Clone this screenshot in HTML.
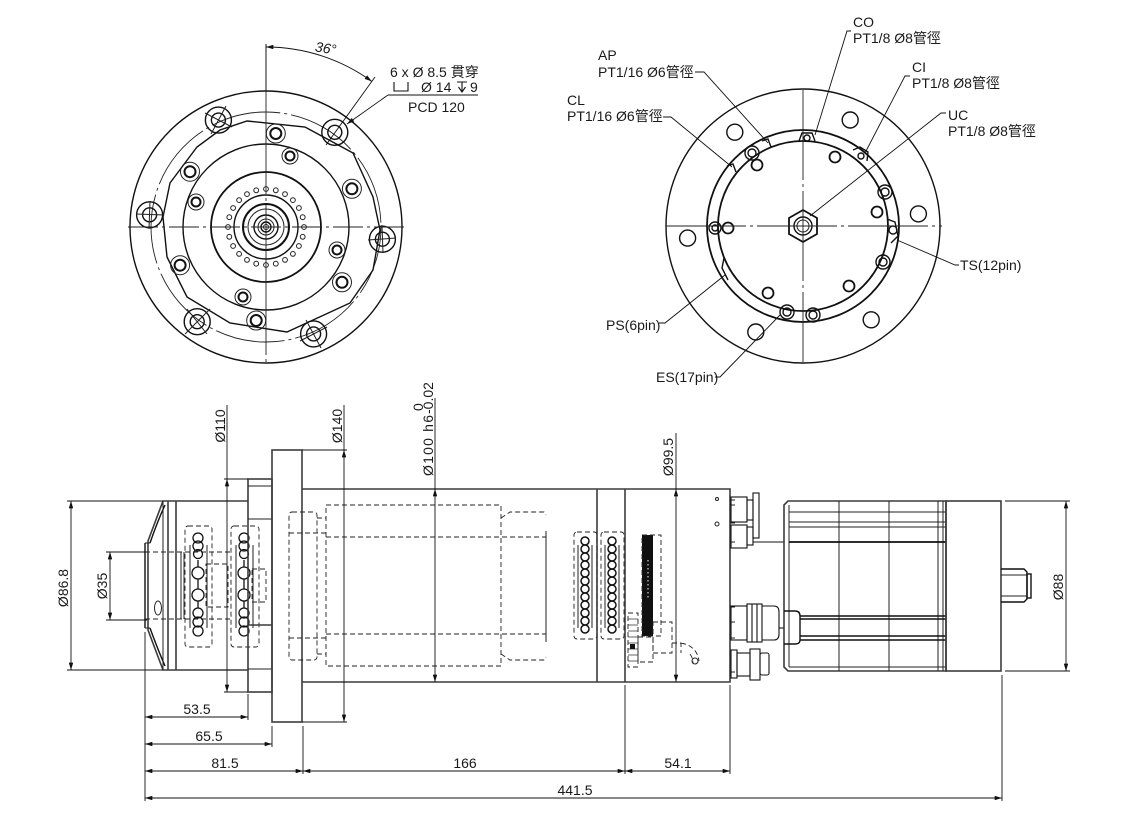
<!DOCTYPE html>
<html>
<head>
<meta charset="utf-8">
<style>
html,body{margin:0;padding:0;background:#fff;}
svg{display:block;}
text{font-family:"Liberation Sans","Noto Sans CJK TC",sans-serif;fill:#1a1a1a;font-size:14px;}
.o{stroke:#3c3c3c;stroke-width:1.6;fill:none;}
.t{stroke:#222;stroke-width:1;fill:none;}
.k{stroke:#111;stroke-width:1.4;fill:none;}
.d{stroke:#222;stroke-width:0.9;fill:none;stroke-dasharray:5 3;}
.c{stroke:#222;stroke-width:0.9;fill:none;stroke-dasharray:30 4 3 4;}
.dm{stroke:#111;stroke-width:0.9;fill:none;}
.da{stroke:#111;stroke-width:0.9;fill:none;marker-start:url(#ar);marker-end:url(#ar);}
.de{stroke:#111;stroke-width:0.9;fill:none;marker-end:url(#ar);}
</style>
</head>
<body>
<svg width="1138" height="822" viewBox="0 0 1138 822" xmlns="http://www.w3.org/2000/svg">
<defs>
<marker id="ar" viewBox="0 0 10 6" refX="10" refY="3" markerWidth="8" markerHeight="4.4" orient="auto-start-reverse" markerUnits="userSpaceOnUse">
<path d="M0,0 L10,3 L0,6 z" fill="#111"/>
</marker>
</defs>

<!-- ================= LEFT FRONT VIEW ================= -->
<g>
<circle cx="266" cy="227" r="136" class="k"/>
<circle cx="266" cy="227" r="115" class="c" style="stroke-dasharray:70 4 3 4"/>
<path class="k" d="M247,121 L305,127 L353,153 L373,197 L380,230 L373,270 L350,303 L287,332 L230,323 L187,297 L167,257 L163,217 L170,183 L197,147 L220,130 Z"/>
<circle cx="266" cy="227" r="83" class="k"/>
<circle cx="266" cy="227" r="55" class="k" style="stroke-width:1.8"/>
<circle cx="266" cy="227" r="32" class="k"/>
<circle cx="266" cy="227" r="23" class="k" style="stroke-width:2"/>
<circle cx="266" cy="227" r="18" class="t"/>
<circle cx="266" cy="227" r="12" class="k"/>
<circle cx="266" cy="227" r="8" class="t"/>
<circle cx="266" cy="227" r="5" class="k"/>
<circle cx="266" cy="227" r="2.5" class="t"/>
<!-- small hole ring -->
<g class="t">
<circle cx="304" cy="227" r="2.4"/><circle cx="302.7" cy="217.2" r="2.4"/><circle cx="298.9" cy="208" r="2.4"/><circle cx="292.9" cy="200.1" r="2.4"/>
<circle cx="285" cy="194.1" r="2.4"/><circle cx="275.8" cy="190.3" r="2.4"/><circle cx="266" cy="189" r="2.4"/><circle cx="256.2" cy="190.3" r="2.4"/>
<circle cx="247" cy="194.1" r="2.4"/><circle cx="239.1" cy="200.1" r="2.4"/><circle cx="233.1" cy="208" r="2.4"/><circle cx="229.3" cy="217.2" r="2.4"/>
<circle cx="228" cy="227" r="2.4"/><circle cx="229.3" cy="236.8" r="2.4"/><circle cx="233.1" cy="246" r="2.4"/><circle cx="239.1" cy="253.9" r="2.4"/>
<circle cx="247" cy="259.9" r="2.4"/><circle cx="256.2" cy="263.7" r="2.4"/><circle cx="266" cy="265" r="2.4"/><circle cx="275.8" cy="263.7" r="2.4"/>
<circle cx="285" cy="259.9" r="2.4"/><circle cx="292.9" cy="253.9" r="2.4"/><circle cx="298.9" cy="246" r="2.4"/><circle cx="302.7" cy="236.8" r="2.4"/>
</g>
<!-- large bolt holes -->
<g>
<circle cx="334.8" cy="132.3" r="13" class="k"/><circle cx="334.8" cy="132.3" r="7" class="k"/>
<circle cx="218.4" cy="120.1" r="13" class="k"/><circle cx="218.4" cy="120.1" r="7" class="k"/>
<circle cx="149.6" cy="214.8" r="13" class="k"/><circle cx="149.6" cy="214.8" r="7" class="k"/>
<circle cx="197.2" cy="321.7" r="13" class="k"/><circle cx="197.2" cy="321.7" r="7" class="k"/>
<circle cx="313.6" cy="333.9" r="13" class="k"/><circle cx="313.6" cy="333.9" r="7" class="k"/>
<circle cx="382.4" cy="239.2" r="13" class="k"/><circle cx="382.4" cy="239.2" r="7" class="k"/>
</g>
<g class="t">
<path d="M226,106 L211,134 M205,113 L232,127"/>
<path d="M136,214 L164,215 M150,201 L149,229"/>
<path d="M187,309 L207,334 M185,334 L210,309"/>
<path d="M306,320 L321,348 M300,341 L327,327"/>
<path d="M368,240 L396,238 M382,225 L383,253"/>
</g>
<!-- medium holes r=94 -->
<g>
<circle cx="351.9" cy="188.8" r="9.5" class="t"/><circle cx="351.9" cy="188.8" r="5.5" class="k" style="stroke-width:2"/>
<circle cx="275.8" cy="133.5" r="9.5" class="t"/><circle cx="275.8" cy="133.5" r="5.5" class="k" style="stroke-width:2"/>
<circle cx="190" cy="171.7" r="9.5" class="t"/><circle cx="190" cy="171.7" r="5.5" class="k" style="stroke-width:2"/>
<circle cx="180.1" cy="265.2" r="9.5" class="t"/><circle cx="180.1" cy="265.2" r="5.5" class="k" style="stroke-width:2"/>
<circle cx="256.2" cy="320.5" r="9.5" class="t"/><circle cx="256.2" cy="320.5" r="5.5" class="k" style="stroke-width:2"/>
<circle cx="342" cy="282.3" r="9.5" class="t"/><circle cx="342" cy="282.3" r="5.5" class="k" style="stroke-width:2"/>
</g>
<!-- small holes r=75 -->
<g>
<circle cx="290" cy="156" r="8" class="t"/><circle cx="290" cy="156" r="4.5" class="k" style="stroke-width:2"/>
<circle cx="196" cy="202" r="8" class="t"/><circle cx="196" cy="202" r="4.5" class="k" style="stroke-width:2"/>
<circle cx="243" cy="297" r="8" class="t"/><circle cx="243" cy="297" r="4.5" class="k" style="stroke-width:2"/>
<circle cx="337" cy="250" r="8" class="t"/><circle cx="337" cy="250" r="4.5" class="k" style="stroke-width:2"/>
</g>
<!-- centerlines -->
<line x1="128" y1="227" x2="405" y2="227" class="c"/>
<line x1="266" y1="44" x2="266" y2="363" class="c" style="stroke-dasharray:150 4 3 4"/>
<line x1="266" y1="44" x2="266" y2="90" class="dm"/>
<!-- 36 deg -->
<path d="M266,47 A180,180 0 0 1 371.8,81.4" class="da"/>
<line x1="326" y1="145" x2="375" y2="77" class="dm"/>
<line x1="388" y1="95" x2="478" y2="95" class="dm"/>
<line x1="388" y1="95" x2="347" y2="124" class="de"/>
<text x="315" y="53" font-size="12" font-style="italic" transform="rotate(9 326 49)">36°</text>
<text x="390" y="77">6 x Ø 8.5 貫穿</text>
<path d="M394,82 V91 H408 V82" class="dm" style="stroke-width:1.1"/>
<text x="421" y="92">Ø 14</text>
<path d="M457,82 H467 M462,82 V92 M458.5,87 L462,92 L465.5,87" class="dm" style="stroke-width:1.1"/>
<text x="470" y="92">9</text>
<text x="408" y="112">PCD 120</text>
</g>

<!-- ================= RIGHT REAR VIEW ================= -->
<g>
<circle cx="803" cy="226" r="137" class="k"/>
<circle cx="803" cy="226" r="96" class="k" style="stroke-width:1.8"/>
<circle cx="803" cy="226" r="85" class="k" style="stroke-width:1.8"/>
<g class="k">
<circle cx="918.4" cy="213.9" r="8"/><circle cx="850.2" cy="120" r="8"/><circle cx="734.8" cy="132.2" r="8"/>
<circle cx="687.6" cy="238.1" r="8"/><circle cx="755.8" cy="332" r="8"/><circle cx="871.2" cy="319.8" r="8"/>
</g>
<g class="k" style="stroke-width:1.8">
<circle cx="757" cy="165" r="5.5"/><circle cx="835" cy="157" r="5.5"/><circle cx="877" cy="212" r="5.5"/>
<circle cx="728" cy="228" r="5.5"/><circle cx="768" cy="293" r="5.5"/><circle cx="849" cy="286" r="5.5"/>
</g>
<!-- fittings -->
<g class="k">
<path d="M799,141 L802,133 L812,133 L815,141"/><circle cx="807" cy="138" r="3"/>
<circle cx="752" cy="153" r="7"/><circle cx="752" cy="153" r="4"/>
<path d="M762,141 L768,139 L771,147"/>
<path d="M727,166 L733,164 L736,172"/>
<circle cx="715" cy="228" r="6"/><circle cx="715" cy="228" r="3"/>
<path d="M853,150 L860,147 L868,152 L867,161"/><circle cx="861" cy="156" r="3"/>
<circle cx="885" cy="192" r="7"/><circle cx="885" cy="192" r="4"/>
<path d="M887,219 L895,222 L898,236 L891,243"/><circle cx="893" cy="230" r="4"/>
<circle cx="883" cy="262" r="7"/><circle cx="883" cy="262" r="4"/>
<circle cx="787" cy="312" r="7"/><circle cx="787" cy="312" r="4"/>
<circle cx="813" cy="315" r="7"/><circle cx="813" cy="315" r="4"/>
<path d="M724,258 L722,268 L728,280"/>
</g>
<polygon points="803,210 817,218 817,234 803,242 789,234 789,218" class="k" style="stroke-width:1.8"/>
<circle cx="803" cy="226" r="9" class="k"/>
<circle cx="803" cy="226" r="6" class="t"/>
<line x1="666" y1="226" x2="942" y2="226" class="c" style="stroke-dasharray:80 4 3 4"/>
<line x1="803" y1="90" x2="803" y2="362" class="c" style="stroke-dasharray:90 4 3 4"/>
<!-- leaders -->
<g class="dm">
<path d="M851,31 L847,31 L815,135"/>
<path d="M695,72 L704,72 L768,143"/>
<path d="M663,117 L671,117 L732,167"/>
<path d="M910,76 L905,76 L865,153"/>
<path d="M946,113 L941,113 L810,216"/>
<path d="M897,240 L955,265 L959,265"/>
<path d="M659,323 L665,323 L725,275"/>
<path d="M715,377 L720,377 L780,315"/>
</g>
<text x="853" y="27">CO</text>
<text x="853" y="43">PT1/8 Ø8管徑</text>
<text x="598" y="60">AP</text>
<text x="598" y="77">PT1/16 Ø6管徑</text>
<text x="567" y="105">CL</text>
<text x="567" y="121">PT1/16 Ø6管徑</text>
<text x="912" y="72">CI</text>
<text x="912" y="88">PT1/8 Ø8管徑</text>
<text x="948" y="120">UC</text>
<text x="948" y="136">PT1/8 Ø8管徑</text>
<text x="960" y="270">TS(12pin)</text>
<text x="606" y="330">PS(6pin)</text>
<text x="656" y="382">ES(17pin)</text>
</g>

<!-- ================= SIDE VIEW ================= -->
<g>
<!-- nose -->
<path class="o" d="M248,501 H163 L148,541 V630 L163,670 H248"/>
<path class="k" d="M165,505 Q158,520 150,543" />
<path class="k" d="M165,666 Q158,650 150,628" />
<line x1="145" y1="543" x2="145" y2="628" class="k"/>
<line x1="145" y1="543" x2="150" y2="543" class="t"/>
<line x1="145" y1="628" x2="150" y2="628" class="t"/>
<line x1="163" y1="501" x2="163" y2="670" class="t"/>
<line x1="168" y1="501" x2="168" y2="670" class="o"/>
<line x1="176" y1="501" x2="176" y2="670" class="o"/>
<ellipse cx="158" cy="608" rx="3.5" ry="7" class="t"/>
<!-- front bearings -->
<line x1="145" y1="552" x2="232" y2="552" class="d"/>
<line x1="145" y1="619" x2="232" y2="619" class="d"/>
<line x1="181" y1="552" x2="181" y2="619" class="t"/>
<line x1="184" y1="552" x2="184" y2="619" class="t"/>
<rect x="185" y="526" width="27" height="121" rx="3" class="d"/>
<rect x="231" y="526" width="28" height="121" rx="3" class="d"/>
<rect x="206" y="564" width="22" height="43" class="d"/>
<rect x="252" y="569" width="14" height="33" class="d"/>
<line x1="190" y1="545" x2="190" y2="628" class="t"/>
<line x1="207" y1="545" x2="207" y2="628" class="t"/>
<line x1="236" y1="545" x2="236" y2="628" class="t"/>
<line x1="253" y1="545" x2="253" y2="628" class="t"/>
<g class="k" style="stroke-width:1.3">
<circle cx="198" cy="538" r="5"/><circle cx="198" cy="546" r="5"/><circle cx="198" cy="554" r="4.5"/><circle cx="198" cy="573" r="6"/><circle cx="198" cy="595" r="6"/><circle cx="198" cy="613" r="5"/><circle cx="198" cy="622" r="5"/><circle cx="198" cy="631" r="5"/>
<circle cx="244" cy="538" r="5"/><circle cx="244" cy="546" r="5"/><circle cx="244" cy="554" r="4.5"/><circle cx="244" cy="573" r="6"/><circle cx="244" cy="595" r="6"/><circle cx="244" cy="613" r="5"/><circle cx="244" cy="622" r="5"/><circle cx="244" cy="631" r="5"/>
<line x1="198" y1="560" x2="198" y2="567"/><line x1="198" y1="579" x2="198" y2="589"/><line x1="198" y1="601" x2="198" y2="608"/>
<line x1="244" y1="560" x2="244" y2="567"/><line x1="244" y1="579" x2="244" y2="589"/><line x1="244" y1="601" x2="244" y2="608"/>
</g>
<!-- step ring -->
<rect x="248" y="479" width="24" height="213" class="o"/>
<line x1="248" y1="486" x2="272" y2="486" class="t"/>
<line x1="248" y1="519" x2="272" y2="519" class="t"/>
<line x1="248" y1="625" x2="272" y2="625" class="o"/>
<line x1="248" y1="669" x2="272" y2="669" class="t"/>
<!-- flange -->
<rect x="272" y="450" width="30" height="272" class="o"/>
<!-- main body -->
<path class="o" d="M302,489 H730 V682 H302"/>
<line x1="597" y1="489" x2="597" y2="682" class="o"/>
<line x1="625" y1="489" x2="625" y2="682" class="o"/>
<!-- body dashed internals -->
<rect x="289" y="512" width="28" height="148" rx="3" class="d"/>
<line x1="289" y1="533" x2="326" y2="533" class="d"/>
<line x1="289" y1="638" x2="326" y2="638" class="d"/>
<line x1="317" y1="518" x2="326" y2="518" class="d"/>
<line x1="317" y1="654" x2="326" y2="654" class="d"/>
<rect x="326" y="505" width="175" height="161" class="d"/>
<line x1="326" y1="537" x2="546" y2="537" class="d"/>
<line x1="326" y1="634" x2="546" y2="634" class="d"/>
<path class="d" d="M501,518 L510,512 H544 L546,515"/>
<path class="d" d="M501,654 L510,660 H544 L546,657"/>
<line x1="546" y1="531" x2="546" y2="642" class="t"/>
<!-- rear bearings -->
<rect x="574" y="532" width="23" height="107" rx="3" class="d"/>
<rect x="601" y="532" width="23" height="107" rx="3" class="d"/>
<line x1="578" y1="545" x2="578" y2="628" class="t"/>
<line x1="592" y1="545" x2="592" y2="628" class="t"/>
<line x1="605" y1="545" x2="605" y2="628" class="t"/>
<line x1="619" y1="545" x2="619" y2="628" class="t"/>
<g class="k" style="stroke-width:1.5">
<circle cx="585" cy="541" r="4"/><circle cx="585" cy="549" r="4"/><circle cx="585" cy="557" r="4"/><circle cx="585" cy="565" r="4"/><circle cx="585" cy="573" r="4"/><circle cx="585" cy="581" r="4"/><circle cx="585" cy="589" r="4"/><circle cx="585" cy="597" r="4"/><circle cx="585" cy="605" r="4"/><circle cx="585" cy="613" r="4"/><circle cx="585" cy="621" r="4"/><circle cx="585" cy="629" r="4"/>
<circle cx="612" cy="541" r="4"/><circle cx="612" cy="549" r="4"/><circle cx="612" cy="557" r="4"/><circle cx="612" cy="565" r="4"/><circle cx="612" cy="573" r="4"/><circle cx="612" cy="581" r="4"/><circle cx="612" cy="589" r="4"/><circle cx="612" cy="597" r="4"/><circle cx="612" cy="605" r="4"/><circle cx="612" cy="613" r="4"/><circle cx="612" cy="621" r="4"/><circle cx="612" cy="629" r="4"/>
</g>
<!-- rear section internals -->
<rect x="642" y="535" width="11" height="101" fill="#111"/>
<line x1="648" y1="560" x2="648" y2="600" stroke="#fff" stroke-width="1" stroke-dasharray="1.5 2.5"/>
<rect x="642" y="535" width="19" height="101" class="d"/>
<rect x="628" y="613" width="10" height="54" class="d"/>
<g class="t" style="stroke-width:0.7">
<line x1="628" y1="619" x2="638" y2="619"/><line x1="628" y1="625" x2="638" y2="625"/><line x1="628" y1="631" x2="638" y2="631"/><line x1="628" y1="637" x2="638" y2="637"/><line x1="628" y1="643" x2="638" y2="643"/><line x1="628" y1="649" x2="638" y2="649"/><line x1="628" y1="655" x2="638" y2="655"/><line x1="628" y1="661" x2="638" y2="661"/>
</g>
<rect x="630" y="644" width="5" height="5" fill="#111"/>
<rect x="638" y="637" width="15" height="25" class="d"/>
<rect x="653" y="622" width="19" height="31" class="d"/>
<path class="d" d="M672,643 H681 V653 M681,643 Q697,646 699,661 M690,654 Q693,658 693,663"/>
<circle cx="695" cy="661" r="3" class="t"/>
<circle cx="717" cy="499" r="1.5" class="t"/>
<circle cx="717" cy="524" r="2" class="t"/>
<g class="t">
<line x1="730" y1="500" x2="735" y2="500"/><line x1="730" y1="505" x2="735" y2="505"/><line x1="730" y1="523" x2="735" y2="523"/><line x1="730" y1="542" x2="735" y2="542"/>
<line x1="730" y1="607" x2="735" y2="607"/><line x1="730" y1="622" x2="735" y2="622"/><line x1="730" y1="638" x2="735" y2="638"/><line x1="730" y1="650" x2="735" y2="650"/><line x1="730" y1="672" x2="735" y2="672"/>
</g>
<!-- fittings -->
<g class="k" style="stroke-width:1.1">
<rect x="731" y="497" width="16" height="25"/>
<rect x="731" y="525" width="16" height="23"/>
<rect x="747" y="500" width="6" height="20"/>
<rect x="747" y="527" width="6" height="18"/>
<rect x="753" y="493" width="6" height="45"/>
<line x1="753" y1="542" x2="784" y2="542"/>
<rect x="731" y="606" width="16" height="34"/>
<rect x="747" y="604" width="15" height="38"/>
<line x1="752" y1="604" x2="752" y2="642"/><line x1="757" y1="604" x2="757" y2="642"/>
<path d="M762,606 H774 Q779,606 779,612 V634 Q779,640 774,640 H762"/>
<line x1="779" y1="628" x2="784" y2="628"/>
<rect x="731" y="650" width="6" height="28"/>
<rect x="737" y="653" width="13" height="23"/>
<rect x="750" y="649" width="10" height="31"/>
<rect x="760" y="653" width="9" height="22" rx="2"/>
</g>
<!-- motor -->
<path class="o" d="M788,501 H946 V671 H788 L784,667 V505 Z"/>
<line x1="789" y1="505" x2="789" y2="667" class="t"/>
<g class="t">
<line x1="789" y1="512" x2="946" y2="512"/><line x1="789" y1="522" x2="946" y2="522"/><line x1="789" y1="527" x2="946" y2="527"/>
<line x1="789" y1="667" x2="946" y2="667"/>
<line x1="839" y1="501" x2="839" y2="671"/><line x1="889" y1="501" x2="889" y2="671"/><line x1="938" y1="501" x2="938" y2="671"/><line x1="943" y1="501" x2="943" y2="671"/>
</g>
<line x1="789" y1="542" x2="946" y2="542" class="k" style="stroke-width:1.8"/>
<g class="k">
<line x1="800" y1="616" x2="946" y2="616"/><line x1="800" y1="619" x2="946" y2="619"/>
<line x1="800" y1="636" x2="946" y2="636"/><line x1="800" y1="640" x2="946" y2="640"/>
</g>
<path class="k" d="M784,611 H795 Q800,611 800,616 V640 Q800,644 795,644 H784"/>
<rect x="946" y="501" width="55" height="170" class="o"/>
<path class="k" d="M1001,569 H1024 L1027,572 V599 L1024,602 H1001"/>
<line x1="1001" y1="575" x2="1027" y2="575" class="t"/>
<line x1="1001" y1="596" x2="1027" y2="596" class="t"/>
<rect x="1027" y="574" width="4" height="24" class="k"/>
</g>

<!-- ================= DIMENSIONS ================= -->
<g>
<!-- Ø86.8 -->
<line x1="67" y1="501" x2="163" y2="501" class="dm"/>
<line x1="67" y1="670" x2="163" y2="670" class="dm"/>
<line x1="71" y1="501" x2="71" y2="670" class="da"/>
<text transform="translate(68,588) rotate(-90)" text-anchor="middle">Ø86.8</text>
<!-- Ø35 -->
<line x1="106" y1="552" x2="147" y2="552" class="dm"/>
<line x1="106" y1="620" x2="147" y2="620" class="dm"/>
<line x1="110" y1="552" x2="110" y2="620" class="da"/>
<text transform="translate(107,586) rotate(-90)" text-anchor="middle">Ø35</text>
<!-- Ø110 -->
<line x1="224" y1="479" x2="248" y2="479" class="dm"/>
<line x1="224" y1="692" x2="248" y2="692" class="dm"/>
<line x1="227" y1="405" x2="227" y2="479" class="dm"/>
<line x1="227" y1="479" x2="227" y2="692" class="da"/>
<text transform="translate(225,426) rotate(-90)" text-anchor="middle">Ø110</text>
<!-- Ø140 -->
<line x1="302" y1="450" x2="347" y2="450" class="dm"/>
<line x1="302" y1="722" x2="347" y2="722" class="dm"/>
<line x1="344" y1="405" x2="344" y2="450" class="dm"/>
<line x1="344" y1="450" x2="344" y2="722" class="da"/>
<text transform="translate(342,426) rotate(-90)" text-anchor="middle">Ø140</text>
<!-- Ø100 h6 -->
<line x1="435" y1="398" x2="435" y2="489" class="dm"/>
<line x1="435" y1="489" x2="435" y2="682" class="da"/>
<g transform="translate(433,476) rotate(-90)">
<text x="0" y="0" textLength="61" lengthAdjust="spacing">Ø100 h6</text>
<text x="62" y="0" font-size="9">-0.02</text>
<text x="65" y="-10" font-size="9">0</text>
</g>
<!-- Ø99.5 -->
<line x1="676" y1="433" x2="676" y2="489" class="dm"/>
<line x1="676" y1="489" x2="676" y2="682" class="da"/>
<text transform="translate(673,457) rotate(-90)" text-anchor="middle">Ø99.5</text>
<!-- Ø88 -->
<line x1="1005" y1="501" x2="1070" y2="501" class="dm"/>
<line x1="1005" y1="671" x2="1070" y2="671" class="dm"/>
<line x1="1066" y1="501" x2="1066" y2="671" class="da"/>
<text transform="translate(1063,587) rotate(-90)" text-anchor="middle">Ø88</text>

<!-- extension lines bottom -->
<line x1="145" y1="632" x2="145" y2="801" class="dm"/>
<line x1="248" y1="694" x2="248" y2="720" class="dm"/>
<line x1="272" y1="726" x2="272" y2="747" class="dm"/>
<line x1="303" y1="726" x2="303" y2="774" class="dm"/>
<line x1="625" y1="685" x2="625" y2="774" class="dm"/>
<line x1="730" y1="685" x2="730" y2="774" class="dm"/>
<line x1="1002" y1="675" x2="1002" y2="801" class="dm"/>

<line x1="145" y1="717" x2="248" y2="717" class="da"/>
<text x="197" y="714" text-anchor="middle">53.5</text>
<line x1="145" y1="744" x2="272" y2="744" class="da"/>
<text x="209" y="741" text-anchor="middle">65.5</text>
<line x1="145" y1="771" x2="303" y2="771" class="da"/>
<text x="225" y="768" text-anchor="middle">81.5</text>
<line x1="303" y1="771" x2="625" y2="771" class="da"/>
<text x="465" y="768" text-anchor="middle">166</text>
<line x1="625" y1="771" x2="730" y2="771" class="da"/>
<text x="678" y="768" text-anchor="middle">54.1</text>
<line x1="145" y1="798" x2="1002" y2="798" class="da"/>
<text x="575" y="795" text-anchor="middle">441.5</text>
</g>
</svg>
</body>
</html>
